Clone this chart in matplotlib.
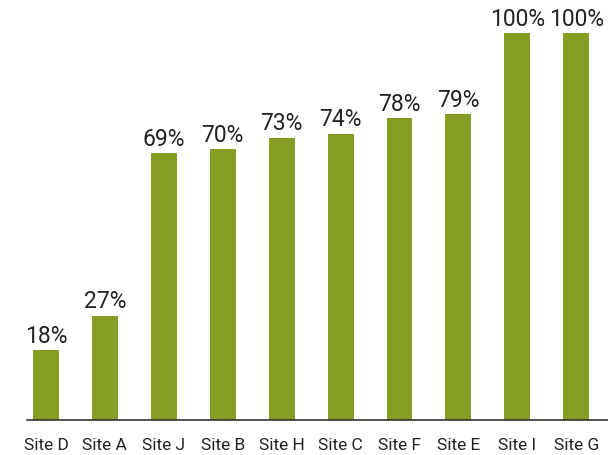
import matplotlib
matplotlib.use("Agg")
import matplotlib.pyplot as plt

sites = ["Site D", "Site A", "Site J", "Site B", "Site H", "Site C", "Site F", "Site E", "Site I", "Site G"]
values = [18, 27, 69, 70, 73, 74, 78, 79, 100, 100]
labels = ["18%", "27%", "69%", "70%", "73%", "74%", "78%", "79%", "100%", "100%"]

plt.rcParams['font.family'] = ['Roboto', 'DejaVu Sans']

fig = plt.figure(figsize=(6.08, 4.56), dpi=100)
ax = fig.add_axes([27 / 608, 35 / 456, 581 / 608, 421 / 456])

x = list(range(len(sites)))
bars = ax.bar(x, values, width=0.44, color="#869D24")

for b, lab in zip(bars, labels):
    ax.annotate(lab, (b.get_x() + b.get_width() / 2, b.get_height()),
                xytext=(0, 2.5), textcoords="offset points",
                ha="center", va="bottom", fontsize=16.5, color="#222222")

ax.set_xlim(-0.323, 9.54)
ax.set_ylim(0, 108.8)
ax.set_xticks(x)
ax.set_xticklabels(sites, fontsize=12.5, color="#222222")
ax.tick_params(axis="x", length=0, pad=12)
ax.set_yticks([])
for s in ["top", "right", "left"]:
    ax.spines[s].set_visible(False)
ax.spines["bottom"].set_color("#333333")
ax.spines["bottom"].set_linewidth(1.2)

fig.savefig("out.png", dpi=100)
